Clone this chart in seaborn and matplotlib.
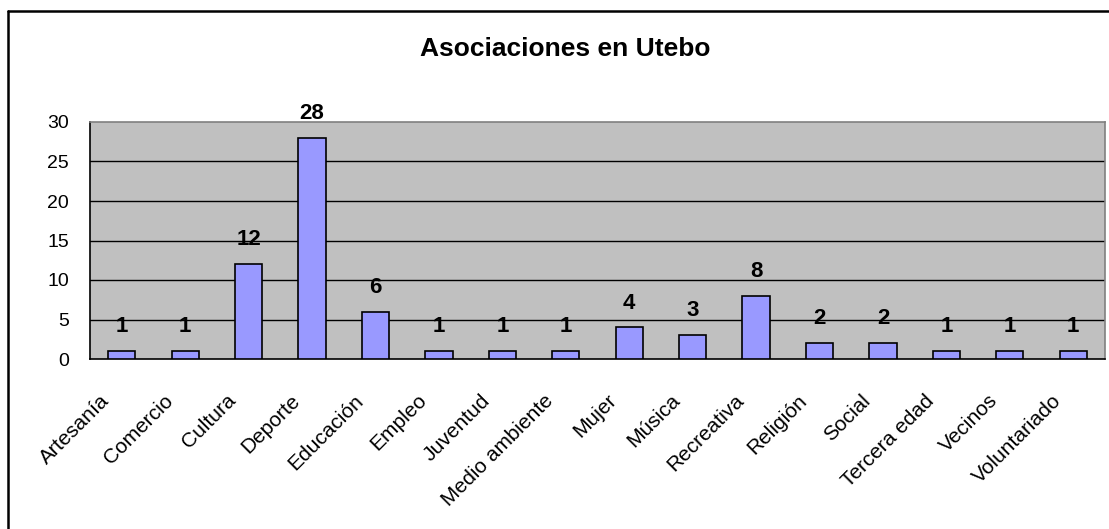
import matplotlib
matplotlib.use("Agg")
import matplotlib.pyplot as plt
import matplotlib.transforms as mtransforms
import seaborn as sns
from matplotlib.lines import Line2D

# datos
categorias = ["Artesanía", "Comercio", "Cultura", "Deporte", "Educación", "Empleo",
              "Juventud", "Medio ambiente", "Mujer", "Música", "Recreativa", "Religión",
              "Social", "Tercera edad", "Vecinos", "Voluntariado"]
asociaciones = [1, 1, 12, 28, 6, 1, 1, 1, 4, 3, 8, 2, 2, 1, 1, 1]
y_ticks = [0, 5, 10, 15, 20, 25, 30]

sns.set_style("white")
plt.rcParams['font.family'] = ['Liberation Sans', 'DejaVu Sans']
plt.rcParams['text.color'] = 'black'
plt.rcParams['xtick.color'] = 'black'
plt.rcParams['ytick.color'] = 'black'

fig = plt.figure(figsize=(11.09, 5.29), dpi=100)
ax = fig.add_axes([90 / 1109, 1 - 359 / 529, 1015 / 1109, 237 / 529])

sns.barplot(x=categorias, y=asociaciones, color="#9999FF", saturation=1,
            edgecolor="black", linewidth=1.2, width=0.43, ax=ax, zorder=3)

ax.set_facecolor("#C0C0C0")
ax.set_ylim(0, 30)
ax.set_xlim(-0.5, len(categorias) - 0.5)
ax.set_yticks(y_ticks)
ax.set_yticklabels([str(t) for t in y_ticks], fontsize=14)
for t in y_ticks[1:-1]:
    ax.axhline(t, color="black", linewidth=1, zorder=1)

# marcas del eje x entre categorias
ax.set_xticks(range(len(categorias)))
ax.set_xticklabels(categorias, rotation=45, ha="right", rotation_mode="anchor", fontsize=15)
ax.set_xticks([i - 0.5 for i in range(len(categorias) + 1)], minor=True)
ax.tick_params(axis="x", which="major", length=0, pad=23)
ax.tick_params(axis="x", which="minor", length=6, width=1, color="black", direction="out")
ax.tick_params(axis="y", length=7, width=1, color="black", direction="out", pad=8)

# desplazar un poco las etiquetas a la izquierda
desplazamiento = mtransforms.ScaledTranslation(-22 / 100, 0, fig.dpi_scale_trans)
for lbl in ax.get_xticklabels():
    lbl.set_transform(lbl.get_transform() + desplazamiento)

for lado in ["top", "right"]:
    ax.spines[lado].set_color("#808080")
    ax.spines[lado].set_linewidth(1.2)
for lado in ["left", "bottom"]:
    ax.spines[lado].set_color("black")
    ax.spines[lado].set_linewidth(1.2)
ax.spines["top"].set_zorder(4)

# etiquetas de valor
for i, v in enumerate(asociaciones):
    ax.annotate(str(v), (i, v), xytext=(0, 10), textcoords="offset points",
                ha="center", va="bottom", fontsize=16, fontweight="bold",
                annotation_clip=False)

ax.set_xlabel("")
ax.set_ylabel("")

fig.text(565 / 1109, 1 - 49 / 529, "Asociaciones en Utebo", ha="center", va="center",
         fontsize=19, fontweight="bold")

# marco exterior del grafico
fig.add_artist(Line2D([8 / 1109, 8 / 1109], [0, 1 - 11 / 529], color="black", linewidth=1.8,
                      transform=fig.transFigure))
fig.add_artist(Line2D([8 / 1109, 1], [1 - 11 / 529, 1 - 11 / 529], color="black", linewidth=1.8,
                      transform=fig.transFigure))

fig.savefig("out.png", dpi=100)
